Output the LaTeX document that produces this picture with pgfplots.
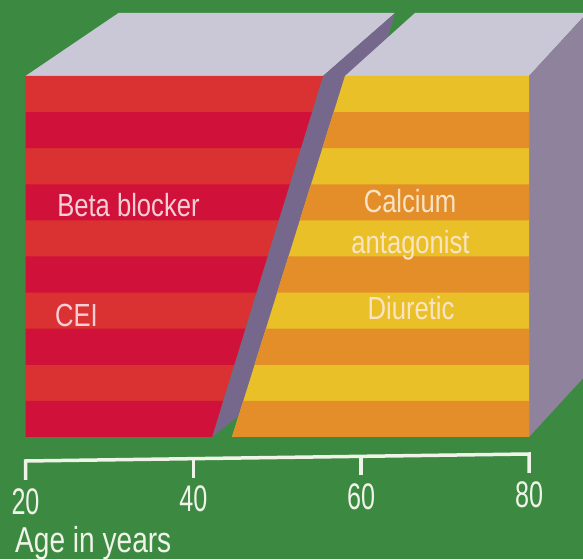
\documentclass[border=0pt]{standalone}
\usepackage{graphicx}
\usepackage{fontspec}
\setmainfont{Liberation Sans}
\usepackage{pgfplots}
\pgfplotsset{compat=1.18}
\definecolor{bg}{RGB}{60,138,66}
\definecolor{topface}{RGB}{202,200,214}
\definecolor{band}{RGB}{118,104,140}
\definecolor{rightface}{RGB}{142,130,156}
\definecolor{redlight}{RGB}{218,50,50}
\definecolor{reddark}{RGB}{208,18,58}
\definecolor{yel}{RGB}{234,192,40}
\definecolor{ora}{RGB}{228,142,42}
\definecolor{txtred}{RGB}{246,206,214}
\definecolor{txtyel}{RGB}{250,228,196}
\definecolor{axw}{RGB}{240,244,232}
\newcommand{\inner}[1]{\fontsize{32}{36}\selectfont\scalebox{0.8}[1]{#1}}
\newcommand{\tick}[1]{\fontsize{37}{40}\selectfont\scalebox{0.68}[1]{#1}}
\begin{document}
\begin{tikzpicture}
\begin{axis}[
  width=583pt, height=559pt, scale only axis,
  xmin=16.961, xmax=86.435, ymin=0, ymax=559,
  hide axis, clip=true,
]
% background
\addplot[fill=bg, draw=none] coordinates {(16.961,0) (86.435,0) (86.435,559) (16.961,559)} --cycle;
% red block top face
\addplot[fill=topface, draw=none] coordinates {(20,483) (31.08,546) (64.03,546) (55.45,483)} --cycle;
% slanted side face of red block
\addplot[fill=band, draw=none] coordinates {(42.22,122) (55.45,483) (64.03,546) (51.76,185)} --cycle;
% red block front (light), then dark stripes
\addplot[fill=redlight, draw=none] coordinates {(20,122) (42.22,122) (55.45,483) (20,483)} --cycle;
\addplot[fill=reddark, draw=none] coordinates {(20,122) (42.22,122) (43.54,158.1) (20,158.1)} --cycle;
\addplot[fill=reddark, draw=none] coordinates {(20,194.2) (44.87,194.2) (46.19,230.3) (20,230.3)} --cycle;
\addplot[fill=reddark, draw=none] coordinates {(20,266.4) (47.51,266.4) (48.84,302.5) (20,302.5)} --cycle;
\addplot[fill=reddark, draw=none] coordinates {(20,338.6) (50.16,338.6) (51.48,374.7) (20,374.7)} --cycle;
\addplot[fill=reddark, draw=none] coordinates {(20,410.8) (52.80,410.8) (54.13,446.9) (20,446.9)} --cycle;
% yellow block top and right faces
\addplot[fill=topface, draw=none] coordinates {(58.07,483) (66.41,546) (86.91,546) (80,483)} --cycle;
\addplot[fill=rightface, draw=none] coordinates {(80,483) (86.91,546) (86.91,185) (80,122)} --cycle;
% yellow block front (yellow), then orange stripes
\addplot[fill=yel, draw=none] coordinates {(44.61,122) (80,122) (80,483) (58.07,483)} --cycle;
\addplot[fill=ora, draw=none] coordinates {(44.61,122) (80,122) (80,158.1) (45.96,158.1)} --cycle;
\addplot[fill=ora, draw=none] coordinates {(47.30,194.2) (80,194.2) (80,230.3) (48.65,230.3)} --cycle;
\addplot[fill=ora, draw=none] coordinates {(49.99,266.4) (80,266.4) (80,302.5) (51.34,302.5)} --cycle;
\addplot[fill=ora, draw=none] coordinates {(52.69,338.6) (80,338.6) (80,374.7) (54.03,374.7)} --cycle;
\addplot[fill=ora, draw=none] coordinates {(55.38,410.8) (80,410.8) (80,446.9) (56.72,446.9)} --cycle;
% age axis
\addplot[axw, line width=3.5pt, line join=miter] coordinates {(20,79) (20,98) (80,105) (80,86)};
\addplot[axw, line width=3.5pt] coordinates {(40,100.3) (40,81)};
\addplot[axw, line width=3.5pt] coordinates {(60,102.7) (60,84)};
% labels
\node[anchor=base, inner sep=0, text=txtred] at (axis cs:32.27,342) {\inner{Beta blocker}};
\node[anchor=base, inner sep=0, text=txtred] at (axis cs:26.08,232) {\inner{CEI}};
\node[anchor=base, inner sep=0, text=txtyel] at (axis cs:65.82,346) {\inner{Calcium}};
\node[anchor=base, inner sep=0, text=txtyel] at (axis cs:65.88,305) {\inner{antagonist}};
\node[anchor=base, inner sep=0, text=txtyel] at (axis cs:65.94,239) {\inner{Diuretic}};
\node[inner sep=0, text=axw] at (axis cs:20,57.5) {\tick{20}};
\node[inner sep=0, text=axw] at (axis cs:40,60) {\tick{40}};
\node[inner sep=0, text=axw] at (axis cs:60,62.5) {\tick{60}};
\node[inner sep=0, text=axw] at (axis cs:80,64) {\tick{80}};
\node[anchor=base west, inner sep=0, text=axw] at (axis cs:18.75,7) {\fontsize{36}{40}\selectfont\scalebox{0.78}[1]{Age in years}};
\end{axis}
\end{tikzpicture}
\end{document}
